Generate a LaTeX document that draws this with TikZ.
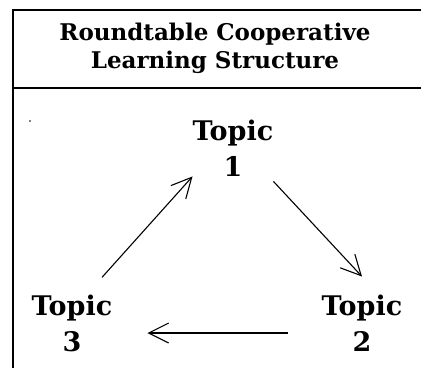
\documentclass[tikz,border=0pt]{standalone}
\usepackage{fontspec}
\setmainfont{DejaVu Serif}
\usetikzlibrary{arrows.meta}
\usetikzlibrary{positioning}

\tikzset{
	topic/.style={font=\bfseries\fontsize{27}{36}\selectfont, align=center, inner sep=0pt},
	arr/.style={line width=1.1pt, -{Straight Barb[length=20pt,width=20pt,line width=1.1pt]}}
}

\begin{document}
\begin{tikzpicture}[x=1pt,y=-1pt]
					\useasboundingbox (0,0) rectangle (421,368);
					% Frame
					\draw[line width=2pt] (421,10) -- (13,10) -- (13,368);
					\draw[line width=2pt] (13,88) -- (421,88);
					\fill (30,121) circle (0.8pt);
					
					% Title
					\node[font=\bfseries\fontsize{23}{28}\selectfont, align=center, inner sep=0pt] (title) at (215,48) {Roundtable Cooperative\\Learning Structure};
					
					% Topics
					\node[topic] (t1) at (233,148) {Topic\\1};
					\node[topic] (t2) at (362,323) {Topic\\2};
					\node[topic] (t3) at (72,323) {Topic\\3};
					
					% Arrows
					\draw[arr] ([xshift=30pt,yshift=17pt]t3.north) -- (t1.south west);
					\draw[arr] ([yshift=-5pt]t1.south east) -- ([yshift=18pt]t2.north);
					\draw[arr, shorten <=34pt, shorten >=35pt] ([yshift=-10pt]t2.west) -- ([yshift=-10pt]t3.east);
				\end{tikzpicture}
\end{document}
